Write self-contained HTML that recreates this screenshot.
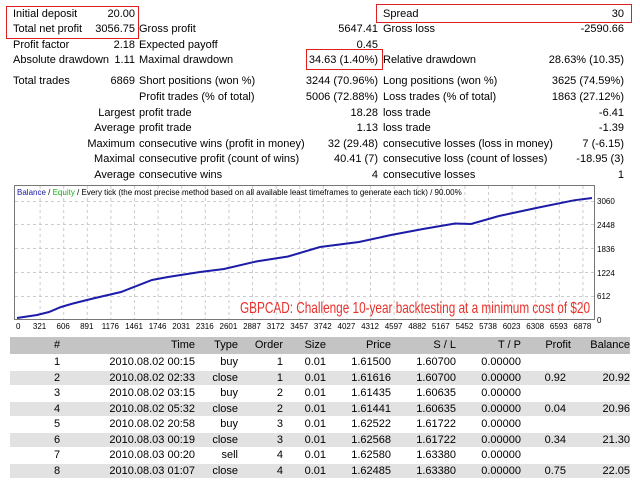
<!DOCTYPE html>
<html><head><style>
body{margin:0;width:640px;height:480px;background:#fff;font-family:"Liberation Sans",sans-serif;font-size:11px;color:#000;position:relative;overflow:hidden}
.t{position:absolute;white-space:nowrap;line-height:13px}
.r{text-align:right}
.box{position:absolute;border:1px solid #e02020}
</style></head><body>
<div class="box" style="left:6px;top:6px;width:131px;height:31px"></div>
<div class="box" style="left:376px;top:4px;width:254px;height:17px"></div>
<div class="box" style="left:306px;top:49px;width:75px;height:19px"></div>

<div id="top"></div>
<script>
const rows=[
[8,"Initial deposit","20.00","","","Spread","30",""],
[23,"Total net profit","3056.75","Gross profit","5647.41","Gross loss","-2590.66",""],
[39,"Profit factor","2.18","Expected payoff","0.45","","",""],
[54,"Absolute drawdown","1.11","Maximal drawdown","34.63 (1.40%)","Relative drawdown","28.63% (10.35)",""],
[75,"Total trades","6869","Short positions (won %)","3244 (70.96%)","Long positions (won %)","3625 (74.59%)",""],
[91,"","","Profit trades (% of total)","5006 (72.88%)","Loss trades (% of total)","1863 (27.12%)",""],
[107,"","Largest","profit trade","18.28","loss trade","-6.41",""],
[122,"","Average","profit trade","1.13","loss trade","-1.39",""],
[138,"","Maximum","consecutive wins (profit in money)","32 (29.48)","consecutive losses (loss in money)","7 (-6.15)",""],
[153,"","Maximal","consecutive profit (count of wins)","40.41 (7)","consecutive loss (count of losses)","-18.95 (3)",""],
[169,"","Average","consecutive wins","4","consecutive losses","1",""]];
let h="";
for(const r of rows){const y=r[0];
if(r[1])h+=`<div class="t" style="left:13px;top:${y}px">${r[1]}</div>`;
if(r[2])h+=`<div class="t r" style="right:${640-135}px;top:${y}px">${r[2]}</div>`;
if(r[3])h+=`<div class="t" style="left:139px;top:${y}px">${r[3]}</div>`;
if(r[4])h+=`<div class="t r" style="right:${640-378}px;top:${y}px">${r[4]}</div>`;
if(r[5])h+=`<div class="t" style="left:383px;top:${y}px">${r[5]}</div>`;
if(r[6])h+=`<div class="t r" style="right:${640-624}px;top:${y}px">${r[6]}</div>`;}
document.getElementById("top").outerHTML=h;
</script>

<svg style="position:absolute;left:0;top:0" width="640" height="480">
<rect x="14.5" y="185.5" width="580" height="134" fill="#fff" stroke="#777"/>
<g stroke="#ccc" stroke-dasharray="3,3">
<line x1="15" x2="594" y1="201.5" y2="201.5"/><line x1="15" x2="594" y1="224.5" y2="224.5"/>
<line x1="15" x2="594" y1="248.5" y2="248.5"/><line x1="15" x2="594" y1="272.5" y2="272.5"/>
<line x1="15" x2="594" y1="296.5" y2="296.5"/>
<g id="vg"></g>
</g>
<text x="17" y="195" font-size="8" font-family="Liberation Sans"><tspan fill="#1a1aa0">Balance</tspan> / <tspan fill="#10b010">Equity</tspan> / Every tick (the most precise method based on all available least timeframes to generate each tick) / 90.00%</text>
<polyline fill="none" stroke="#1c1ca8" stroke-width="2" points="17,318 37,315 49,312 61,307 73,303.5 93,298.5 121,292 152,280 168,277 200,272 224,269 256,261.5 288,256.5 320,247 359,242 391,235 423,229 455,223.5 471,224 499,216 538,207.6 574,200.3 592,198"/>
<g id="xl" font-size="8" font-family="Liberation Sans" fill="#000"></g>
<g font-size="8" font-family="Liberation Sans" fill="#000">
<text x="597" y="204">3060</text><text x="597" y="228">2448</text><text x="597" y="252">1836</text>
<text x="597" y="276">1224</text><text x="597" y="299">612</text><text x="597" y="323">0</text>
</g>
<text x="240" y="313" textLength="350" lengthAdjust="spacingAndGlyphs" font-size="16" fill="#e8302a" font-family="Liberation Sans">GBPCAD: Challenge 10-year backtesting at a minimum cost of $20</text>
</svg>
<script>
const xl=[0,321,606,891,1176,1461,1746,2031,2316,2601,2887,3172,3457,3742,4027,4312,4597,4882,5167,5452,5738,6023,6308,6593,6878];
let s="",g="";
xl.forEach((v,i)=>{const x=16+i*23.6;s+=`<text x="${x}" y="329" text-anchor="${i?'middle':'start'}">${v}</text>`;if(i)g+=`<line x1="${x+0.5}" x2="${x+0.5}" y1="186" y2="319"/>`;});
document.getElementById("xl").innerHTML=s;document.getElementById("vg").innerHTML=g;
</script>

<div style="position:absolute;left:10px;top:337px;width:620px;height:17px;background:#c4c4c4"></div>
<div id="tbl"></div>
<script>
const cols=[["#",57,"c"],["Time",195],["Type",238],["Order",283],["Size",326],["Price",391],["S / L",456],["T / P",521],["Profit",571],["Balance",630]];
const data=[
["1","2010.08.02 00:15","buy","1","0.01","1.61500","1.60700","0.00000","",""],
["2","2010.08.02 02:33","close","1","0.01","1.61616","1.60700","0.00000","0.92","20.92"],
["3","2010.08.02 03:15","buy","2","0.01","1.61435","1.60635","0.00000","",""],
["4","2010.08.02 05:32","close","2","0.01","1.61441","1.60635","0.00000","0.04","20.96"],
["5","2010.08.02 20:58","buy","3","0.01","1.62522","1.61722","0.00000","",""],
["6","2010.08.03 00:19","close","3","0.01","1.62568","1.61722","0.00000","0.34","21.30"],
["7","2010.08.03 00:20","sell","4","0.01","1.62580","1.63380","0.00000","",""],
["8","2010.08.03 01:07","close","4","0.01","1.62485","1.63380","0.00000","0.75","22.05"]];
let t="";
function cell(txt,c,y,i){if(!txt)return"";if(c[2]=="c")return`<div class="t" style="left:${c[1]-20}px;width:40px;text-align:center;top:${y}px">${txt}</div>`;let rr=c[1];if(i==8&&y>355)rr=566;return`<div class="t r" style="right:${640-rr}px;top:${y}px">${txt}</div>`;}
cols.forEach((c,i)=>t+=cell(c[0],c,339,i));
data.forEach((d,r)=>{const y0=354+r*15.5;if(r%2==1)t+=`<div style="position:absolute;left:10px;top:${y0+1}px;width:620px;height:14px;background:#e2e2e2"></div>`;d.forEach((v,i)=>t+=cell(v,cols[i],y0+2,i));});
document.getElementById("tbl").outerHTML=t;
</script>
</body></html>
